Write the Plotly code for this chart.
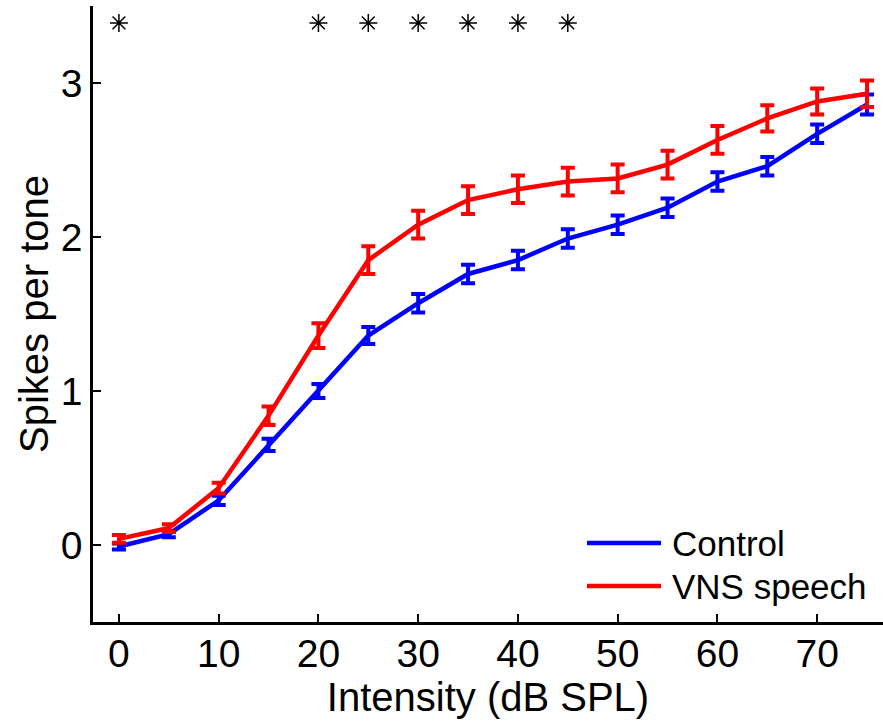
import plotly.graph_objects as go

intensity = [0, 5, 10, 15, 20, 25, 30, 35, 40, 45, 50, 55, 60, 65, 70, 75]
control = [-0.01, 0.07, 0.29, 0.65, 1.00, 1.36, 1.57, 1.76, 1.85, 1.99, 2.08, 2.19, 2.36, 2.46, 2.67, 2.86]
control_err = [0.02, 0.02, 0.03, 0.04, 0.045, 0.055, 0.06, 0.06, 0.06, 0.06, 0.06, 0.06, 0.06, 0.06, 0.06, 0.065]
vns = [0.04, 0.11, 0.37, 0.84, 1.36, 1.85, 2.08, 2.24, 2.31, 2.36, 2.38, 2.47, 2.63, 2.77, 2.88, 2.93]
vns_err = [0.025, 0.025, 0.035, 0.06, 0.08, 0.09, 0.09, 0.09, 0.09, 0.09, 0.09, 0.09, 0.09, 0.085, 0.085, 0.086]
sig_x = [0, 20, 25, 30, 35, 40, 45]
sig_y = [3.39] * len(sig_x)
series_names = ["Control", "VNS speech"]
colors = ["#0000FF", "#FF0000"]
x_ticks = [0, 10, 20, 30, 40, 50, 60, 70]
y_ticks = [0, 1, 2, 3]

FONT = "Liberation Sans, Arial, sans-serif"

fig = go.Figure()
for name, y, err, c in [(series_names[0], control, control_err, colors[0]),
                        (series_names[1], vns, vns_err, colors[1])]:
    fig.add_trace(go.Scatter(
        x=intensity, y=y, mode="lines", name=name,
        line=dict(color=c, width=4.5),
        error_y=dict(type="data", array=err, visible=True, color=c, thickness=4, width=7),
        showlegend=False,
    ))

fig.add_trace(go.Scatter(
    x=sig_x, y=sig_y, mode="markers", showlegend=False,
    marker=dict(symbol="asterisk-open", size=15, color="black", line=dict(color="black", width=1.5)),
))

# manual legend
leg_y = [0.1282, 0.0584]
for name, c, yy in zip(series_names, colors, leg_y):
    fig.add_shape(type="line", xref="paper", yref="paper", x0=0.6253, x1=0.719, y0=yy, y1=yy,
                  line=dict(color=c, width=4.5))
    fig.add_annotation(xref="paper", yref="paper", x=0.7304, y=yy, text=name, showarrow=False,
                       xanchor="left", yanchor="middle", font=dict(family=FONT, size=35, color="black"))

fig.update_layout(
    width=883, height=724,
    margin=dict(l=93, r=0, t=6, b=102),
    plot_bgcolor="white", paper_bgcolor="white",
    font=dict(family=FONT, size=40, color="black"),
    showlegend=False,
)
fig.update_xaxes(
    range=[-2.6, 76.6], tickvals=x_ticks, ticks="inside", ticklen=8, tickwidth=2, tickcolor="black",
    showline=True, linecolor="black", linewidth=2.5, showgrid=False, zeroline=False,
    title=dict(text="Intensity (dB SPL)", font=dict(size=40), standoff=0),
    tickfont=dict(size=39), ticklabelstandoff=-5,
)
fig.update_yaxes(
    range=[-0.5, 3.5], tickvals=y_ticks, ticks="inside", ticklen=8, tickwidth=2, tickcolor="black",
    showline=True, linecolor="black", linewidth=2.5, showgrid=False, zeroline=False,
    title=dict(text="Spikes per tone", font=dict(size=40), standoff=0),
    tickfont=dict(size=39),
)

fig.write_html("out.html")
